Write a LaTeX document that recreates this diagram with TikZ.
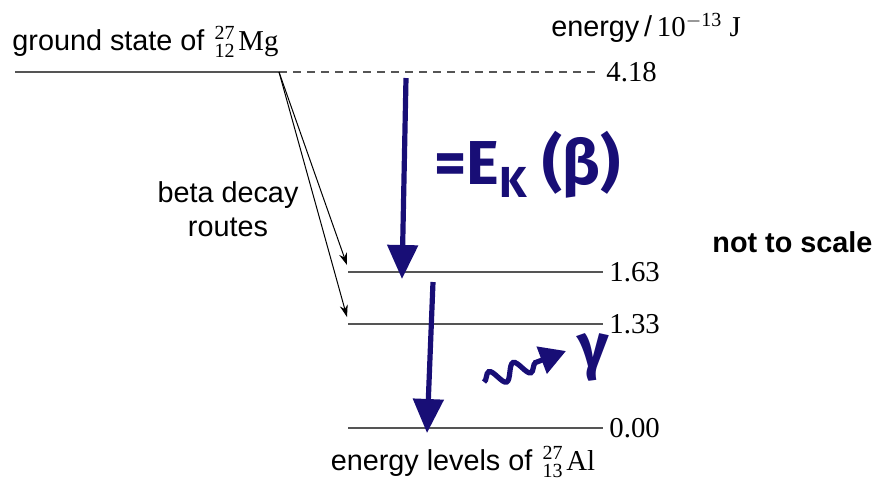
\documentclass[tikz,border=0pt]{standalone}
\usepackage{amsmath}
\usepackage{fontspec}
\setmainfont{Liberation Serif}
\setsansfont{Liberation Sans}
\newfontfamily\handfont{Fira Sans}
\usetikzlibrary{arrows.meta,decorations.pathmorphing}
\definecolor{pen}{RGB}{24,14,118}
\definecolor{levelgray}{RGB}{85,85,85}
\newcommand{\nucl}[3]{\hspace{0.35em}\ensuremath{^{\text{#1}}_{\text{#2}}}\hspace{0.1em}#3}
\tikzset{
  level/.style={
    draw = levelgray,
    line width = 1.1pt
  },
  groundext/.style={
    draw = levelgray,
    line width = 0.6pt,
    dash pattern = on 4pt off 3pt
  },
  value/.style={
    anchor = west,
    inner sep = 3pt,
    font = \rmfamily\fontsize{14.4}{17}\selectfont
  },
  caption/.style={
    inner sep = 0pt,
    font = \sffamily\fontsize{14.4}{17}\selectfont
  },
  route/.style={
    draw,
    line width = 0.5pt,
    -{Stealth[length=6pt,width=4pt]}
  },
  handarrow/.style={
    draw = pen,
    line width = 2.6pt,
    -{Triangle[length=17pt,width=15pt]}
  },
  handtext/.style={
    text = pen,
    inner sep = 0pt,
    font = \handfont\bfseries\fontsize{31}{34}\selectfont
  }
}
\begin{document}
\begin{tikzpicture}[x=0.5pt,y=-0.5pt]
  \useasboundingbox (0,0) rectangle (874,479);
  % ground state of Mg
  \coordinate (g0) at (15,72);
  \coordinate (gk) at (279,72);
  \coordinate (g1) at (600,72);
  \draw[level] (g0) -- (gk);
  \draw[groundext] (gk) -- (g1);
  \node[value] (v418) at (g1) {4.18};
  % levels of Al
  \foreach \y/\v/\n in {272/1.63/a, 324/1.33/b, 428/0.00/c}{
    \coordinate (\n0) at (348,\y);
    \coordinate (\n1) at (603,\y);
    \draw[level] (\n0) -- (\n1);
    \node[value] (v\n) at (\n1) {\v};
  }
  % labels
  \node[caption, anchor=west] (mg) at (12,42) {ground state of\rmfamily\nucl{27}{12}{Mg}};
  \node[caption] (unit) at (646,28) {energy\,/\,{\rmfamily 10$^{-\text{13}}$ J}};
  \node[caption, align=center] (routes) at (228,209) {beta decay\\routes};
  \node[caption, font=\sffamily\bfseries\fontsize{14.4}{17}\selectfont, anchor=west] (scale) at (712,242) {not to scale};
  \node[caption] (al) at (463,462) {energy levels of\rmfamily\nucl{27}{13}{Al}};
  % beta decay routes
  \coordinate (ra) at (347,265);
  \coordinate (rb) at (347,317);
  \draw[route] (gk) -- (ra);
  \draw[route] (gk) -- (rb);
  % hand annotations
  \coordinate (h0) at (406,78);
  \coordinate (h1) at (402,279);
  \coordinate (h2) at (433,282);
  \coordinate (h3) at (427,433);
  \draw[handarrow] (h0) -- (h1);
  \draw[handarrow] (h2) -- (h3);
  \node[handtext, anchor=west] (ek) at (434,165) {=E$_{\text{\handfont\bfseries K}}$ (β)};
  \coordinate (w0) at (484,382);
  \coordinate (w1) at (566,351);
  \draw[handarrow, -{Triangle[length=13pt,width=14pt]}, decorate,
    decoration={snake, amplitude=4pt, segment length=13pt, post length=10pt}] (w0) -- (w1);
  \node[handtext] (gam) at (593,357) {γ};
\end{tikzpicture}
\end{document}
